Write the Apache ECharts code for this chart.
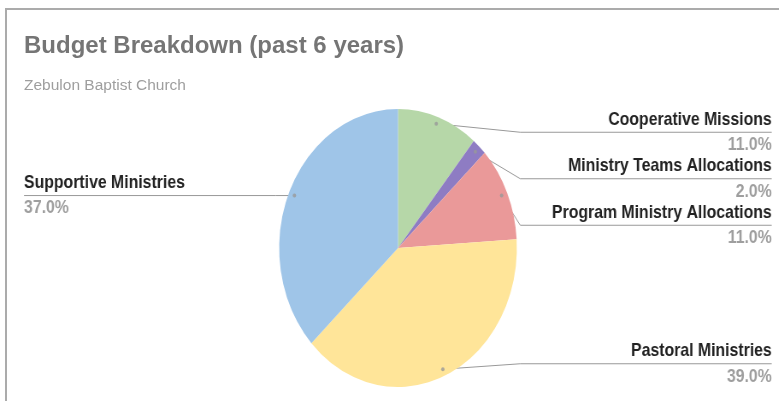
<!DOCTYPE html>
<html>
<head>
<meta charset="utf-8">
<script src="https://cdn.jsdelivr.net/npm/echarts@6/dist/echarts.min.js"></script>
<style>
  html, body { margin: 0; padding: 0; background: #ffffff; overflow: hidden; }
  #frame { position: absolute; left: 5px; top: 8px; width: 800px; height: 420px;
           border-left: 2px solid #ababab; border-top: 2px solid #ababab; }
  #head { position: absolute; left: 0; top: 0; width: 779px; height: 401px; }
  #pie { position: absolute; left: 0; top: 0; height: 401px; transform-origin: 0 0; }
</style>
</head>
<body>
<div id="frame"></div>
<div id="head"></div>
<div id="pie"></div>
<script>
// ---- data ----
const chartTitle = 'Budget Breakdown (past 6 years)';
const chartSubtitle = 'Zebulon Baptist Church';
const categories = ['Cooperative Missions', 'Ministry Teams Allocations', 'Program Ministry Allocations', 'Pastoral Ministries', 'Supportive Ministries'];
const shares = [11, 2, 11, 39, 37];

// ---- layout constants ----
const S = 0.855;                 // horizontal squeeze of the pie layer
const W = Math.round(779 / S);   // unsqueezed width of the pie layer
const CX = 465.5;                // pie centre x (unsqueezed)
const PIE_TOP = 109, PIE_BOTTOM = 14;
const R = (401 - PIE_TOP - PIE_BOTTOM) / 2;
const ANCHOR = 0.95;             // label line start, fraction of radius
const RIGHT_EDGE = 8.4, LEFT_EDGE = 28.1;

const pieEl = document.getElementById('pie');
pieEl.style.width = W + 'px';
pieEl.style.transform = 'scaleX(' + S + ')';

// ---- header chart ----
const head = echarts.init(document.getElementById('head'), null, { renderer: 'canvas' });
head.setOption({
  animation: false,
  title: [
    { text: chartTitle, left: 24, top: 34, padding: 0,
      textStyle: { fontFamily: 'Liberation Sans, Arial, sans-serif', fontSize: 24, fontWeight: 'bold', color: '#757575' } },
    { text: chartSubtitle, left: 24, top: 78, padding: 0,
      textStyle: { fontFamily: 'Liberation Sans, Arial, sans-serif', fontSize: 15.5, fontWeight: 'normal', color: '#9e9e9e' } }
  ]
});

// ---- pie chart ----
const total = shares.reduce((a, b) => a + b, 0);
let acc = 0;
const mids = shares.map(v => { const m = acc + v / 2; acc += v; return m; });
const labelData = categories.map((name, i) => ({
  name: name,
  value: shares[i],
  label: { edgeDistance: mids[i] / total > 0.5 ? LEFT_EDGE : RIGHT_EDGE }
}));
const sliceData = categories.map((name, i) => ({ name: name, value: shares[i] }));
const anchorData = mids.map(m => [ANCHOR, m]);

const pie = echarts.init(pieEl, null, { renderer: 'canvas' });
pie.setOption({
  animation: false,
  color: ['#b6d7a8', '#8e7cc3', '#ea9999', '#ffe599', '#9fc5e8'],
  polar: { center: [CX, PIE_TOP + R], radius: R },
  angleAxis: { type: 'value', min: 0, max: total, startAngle: 90, clockwise: true, show: false },
  radiusAxis: { type: 'value', min: 0, max: 1, show: false },
  series: [
    {
      type: 'pie', silent: true, left: 0, right: 0, top: PIE_TOP, bottom: PIE_BOTTOM,
      center: [CX, '50%'], radius: '100%', startAngle: 90, clockwise: true,
      label: { show: false }, labelLine: { show: false },
      itemStyle: { borderWidth: 0 },
      data: sliceData
    },
    {
      type: 'pie', silent: true, left: 0, right: 0, top: PIE_TOP, bottom: PIE_BOTTOM,
      center: [CX, '50%'], radius: (ANCHOR * 100) + '%', startAngle: 90, clockwise: true,
      itemStyle: { color: 'rgba(0,0,0,0)' },
      avoidLabelOverlap: true,
      label: {
        show: true, position: 'outside', alignTo: 'edge', padding: 0,
        formatter: p => '{n|' + p.name + '}\n{p|' + p.percent.toFixed(1) + '%}',
        rich: {
          n: { fontFamily: 'Liberation Sans, Arial, sans-serif', fontSize: 18.5, fontWeight: 'bold', color: '#222222', lineHeight: 25.5 },
          p: { fontFamily: 'Liberation Sans, Arial, sans-serif', fontSize: 18.5, fontWeight: 'bold', color: '#9e9e9e', lineHeight: 25.5 }
        }
      },
      labelLine: { show: true, length: 0, length2: 15, lineStyle: { color: '#999999', width: 1 } },
      labelLayout: function (params) {
        const rect = params.labelRect;
        const pts = params.labelLinePoints;
        if (!pts || !rect) return {};
        const y = rect.y + rect.height / 2;
        const right = rect.x + rect.width / 2 > CX;
        const elbowX = right ? CX + R + 4 : CX - R - 4;
        const endX = right ? rect.x + rect.width : rect.x;
        return { labelLinePoints: [pts[0], [elbowX, y], [endX, y]] };
      },
      data: labelData
    },
    {
      type: 'scatter', coordinateSystem: 'polar', silent: true,
      symbol: 'circle', symbolSize: 4,
      itemStyle: { color: '#999999' },
      data: anchorData
    }
  ]
});
</script>
</body>
</html>
